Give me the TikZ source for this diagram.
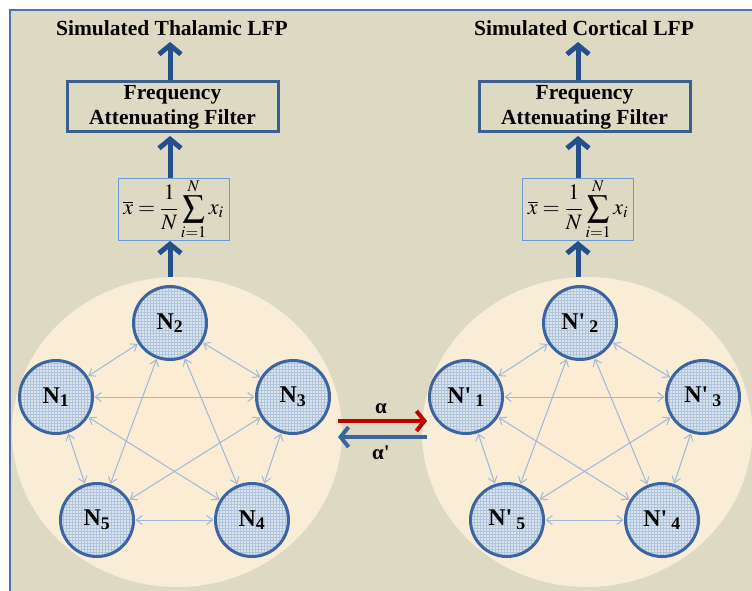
\documentclass[tikz,border=0pt]{standalone}
\usepackage{mathptmx}
\usepackage{fontspec}
\setmainfont{Liberation Serif}
\usetikzlibrary{arrows.meta,shapes.geometric,patterns}
\definecolor{tanbg}{HTML}{DDD9C3}
\definecolor{framec}{HTML}{4A73AB}
\definecolor{navy}{HTML}{23508D}
\definecolor{boxc}{HTML}{3A5F91}
\definecolor{lightbox}{HTML}{6A9BD8}
\definecolor{nodeb}{HTML}{3B64A0}
\definecolor{nodefill}{HTML}{DCE3EA}
\definecolor{gridc}{HTML}{AFC4DE}
\definecolor{edgec}{HTML}{9DB8DA}
\definecolor{alphared}{HTML}{C00000}
\definecolor{alphablue}{HTML}{3A66A0}
\definecolor{innerc}{HTML}{FDECD3}
\definecolor{outerc}{HTML}{F3EEDB}
\pgfdeclareradialshading{popshade}{\pgfpoint{0bp}{0bp}}{color(0bp)=(innerc); color(5bp)=(innerc); color(48bp)=(outerc); color(50bp)=(outerc)}
\tikzset{
  neuron/.style={circle, minimum size=73pt, inner sep=0pt, draw=nodeb, line width=3pt,
    preaction={fill=nodefill}, pattern=grid, pattern color=gridc,
    font=\bfseries\fontsize{24}{26}\selectfont},
  edge/.style={draw=edgec, line width=1pt, {Straight Barb[length=6pt,width=9pt]}-{Straight Barb[length=6pt,width=9pt]}, shorten <=0.5pt, shorten >=0.5pt},
  bigarrow/.style={draw=navy, line width=5pt, -{Straight Barb[length=9pt,width=22pt]}},
  filterbox/.style={draw=boxc, line width=3pt, minimum width=211pt, minimum height=50pt, align=center,
    font=\bfseries\fontsize{21.5}{25}\selectfont, inner sep=0pt},
  formbox/.style={draw=lightbox, line width=1pt, minimum width=111pt, minimum height=62pt, inner sep=0pt,
    font=\fontsize{22}{24}\selectfont},
  title/.style={font=\bfseries\fontsize{21.5}{24}\selectfont},
  population/.style={ellipse, minimum width=330pt, minimum height=310pt, inner sep=0pt,
    shading=popshade},
  xarrow/.style={line width=4pt, -{Straight Barb[length=8pt,width=20pt]}},
  alab/.style={font=\bfseries\fontsize{21}{24}\selectfont}
}
\newcommand{\nlab}[1]{N\textquotesingle\,\textsubscript{#1}}
\begin{document}
\begin{tikzpicture}[x=1pt,y=-1pt]
\clip (0,0) rectangle (752,591);
\fill[white] (0,0) rectangle (752,591);
\fill[tanbg] (10,10) rectangle (760,600);
\draw[framec, line width=2pt] (10,600) -- (10,10) -- (760,10);

% populations
\node[population] (PL) at (177,432) {};
\node[population] (PR) at (587,432) {};

% left neurons
\node[neuron] (L1) at (56,397) {N\textsubscript{1}};
\node[neuron] (L2) at (170,323) {N\textsubscript{2}};
\node[neuron] (L3) at (293,397) {N\textsubscript{3}};
\node[neuron] (L4) at (252,520) {N\textsubscript{4}};
\node[neuron] (L5) at (97,520) {N\textsubscript{5}};
% right neurons
\node[neuron] (R1) at (466,397) {\nlab{1}};
\node[neuron] (R2) at (580,323) {\nlab{2}};
\node[neuron] (R3) at (703,397) {\nlab{3}};
\node[neuron] (R4) at (662,520) {\nlab{4}};
\node[neuron] (R5) at (507,520) {\nlab{5}};

\foreach \a/\b in {1/2,2/3,3/4,4/5,5/1,1/3,1/4,2/4,2/5,3/5}{
  \draw[edge] (L\a) -- (L\b);
  \draw[edge] (R\a) -- (R\b);
}

% averaging boxes
\node[formbox] (FL) at (173.5,209) {$\displaystyle \overline{x}=\frac{1}{N}\sum_{i=1}^{N}x_i$};
\node[formbox] (FR) at (578,209) {$\displaystyle \overline{x}=\frac{1}{N}\sum_{i=1}^{N}x_i$};

% filters
\node[filterbox] (BL) at (172.5,107) {Frequency\\Attenuating Filter};
\node[filterbox] (BR) at (584.5,107) {Frequency\\Attenuating Filter};

% titles
\node[title] (TL) at (172,28) {Simulated Thalamic LFP};
\node[title] (TR) at (584,28) {Simulated Cortical LFP};

% vertical arrows
\draw[bigarrow] (PL.north -| 170,0) -- (170,241);
\draw[bigarrow] (FL.north -| 170,0) -- (170,136);
\draw[bigarrow] (BL.north -| 170,0) -- (170,42);
\draw[bigarrow] (PR.north -| 578,0) -- (578,241);
\draw[bigarrow] (FR.north -| 578,0) -- (578,136);
\draw[bigarrow] (BR.north -| 578,0) -- (578,42);

% coupling arrows
\coordinate (aS) at (338,421);
\coordinate (aE) at (427,421);
\coordinate (bS) at (427,437);
\coordinate (bE) at (338,437);
\draw[xarrow, alphared] (aS) -- (aE);
\draw[xarrow, alphablue] (bS) -- (bE);
\node[alab] (al) at (381,409) {α};
\node[alab] (alp) at (381,453) {α\textquotesingle};
\end{tikzpicture}
\end{document}
